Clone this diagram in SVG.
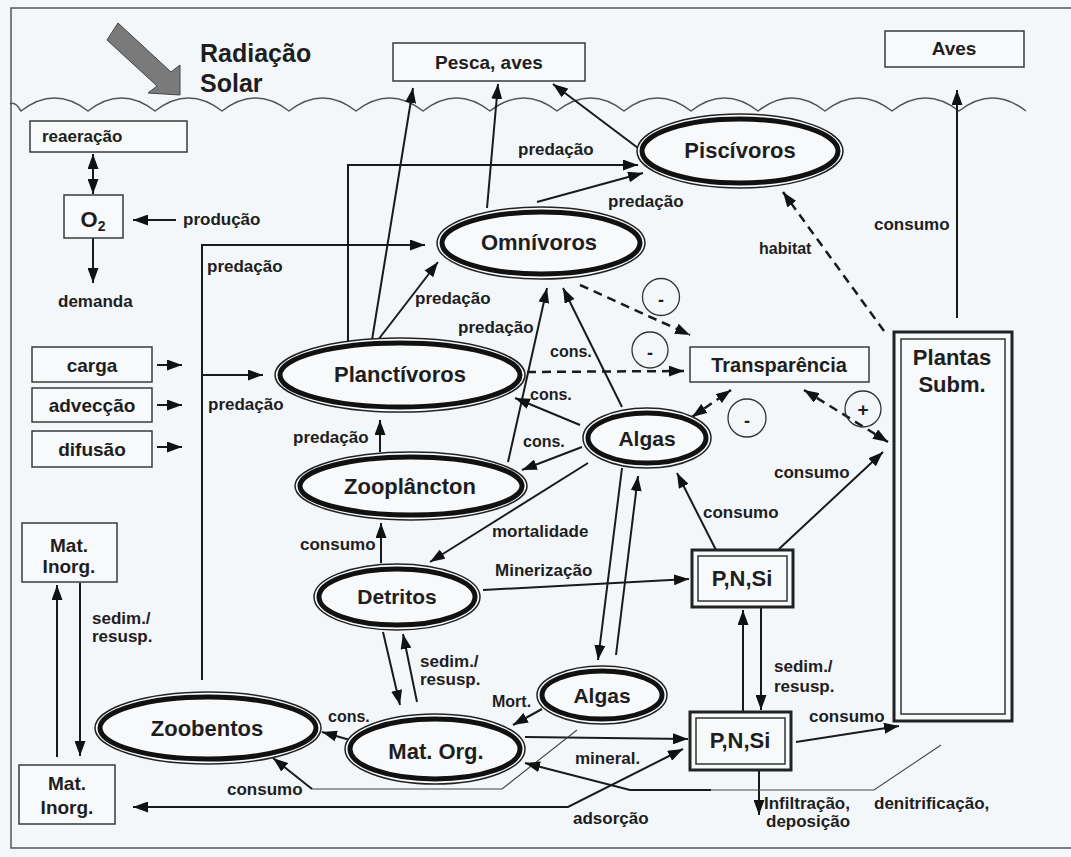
<svg xmlns="http://www.w3.org/2000/svg" width="1071" height="857" viewBox="0 0 1071 857">
<style>
.t{font-family:"Liberation Sans",Arial,sans-serif;font-weight:bold;fill:#1e1e1e}
.big{font-size:22px;text-anchor:middle}
.box{font-size:19px;text-anchor:middle}
.lbl{font-size:17px}
.sm{font-size:16px}
.r{fill:#f7f9fb;stroke:#3a3a3a;stroke-width:1.5}
.r2{fill:#f7f9fb;stroke:#222;stroke-width:3}
.ri{fill:none;stroke:#333;stroke-width:1.5}
.e1{fill:#f7f9fb;stroke:#222;stroke-width:1.5}
.e2{fill:none;stroke:#111;stroke-width:5}
.a{marker-end:url(#ah)}
.b{marker-start:url(#ah);marker-end:url(#ah)}
.d{stroke-dasharray:9 6;stroke-width:2.5}
.thin{stroke-width:1.1;stroke:#444}
.circ{fill:none;stroke:#333;stroke-width:1.3}
</style>
<defs>
<marker id="ah" markerUnits="userSpaceOnUse" markerWidth="15" markerHeight="11" refX="15" refY="5.5" orient="auto-start-reverse">
<path d="M0,0 L15,5.5 L0,11 z" fill="#111"/>
</marker>
</defs>
<rect x="0" y="0" width="1071" height="857" fill="#f4f7fa"/>
<path d="M1071,8 H11 V848 H1071" fill="none" stroke="#555" stroke-width="1.5"/>

<g id="radiacao">
<polygon points="118,23 171,72 180,65 180,95 148,93 157,86 107,40" fill="#7a7a7a" stroke="#444" stroke-width="1"/>
<text class="t" x="200" y="62" font-size="25">Radiação</text>
<text class="t" x="200" y="92" font-size="25">Solar</text>
</g>

<path id="superficie" fill="none" stroke="#555" stroke-width="1.5" d="M10,104 Q15,101 21,111 Q54.5,85 88,111 Q121.5,85 155,111 Q188.5,85 222,111 Q255.5,85 289,111 Q322.5,85 356,111 Q389.5,85 423,111 Q456.5,85 490,111 Q523.5,85 557,111 Q590.5,85 624,111 Q657.5,85 691,111 Q724.5,85 758,111 Q791.5,85 825,111 Q858.5,85 892,111 Q925.5,85 959,111 Q992.5,85 1026,111"/>

<g id="connectors" fill="none" stroke="#1a1a1a" stroke-width="2">
<path class="b" d="M93,154 V194"/>
<path class="a" d="M176,220 H133"/>
<path class="a" d="M93,238 V283"/>
<path class="a" d="M157,365 H182"/>
<path class="a" d="M157,405 H182"/>
<path class="a" d="M157,447 H182"/>
<path class="a" d="M57,757 V585"/>
<path class="a" d="M80,583 V756"/>
<path class="a" d="M202,680 V245 H425"/>
<path class="a" d="M202,375 H263"/>
<path class="a" d="M348,342 V165 H638"/>
<path class="a" d="M372,340 L413,88"/>
<path class="a" d="M487,208 L498,84"/>
<path class="a" d="M638,148 L553,84"/>
<path class="a" d="M537,202 L643,173"/>
<path class="a" d="M378,340 L438,262"/>
<path class="a" d="M508,462 L547,288"/>
<path class="a" d="M622,407 L563,288"/>
<path class="a d" d="M580,285 L690,335"/>
<path class="a d" d="M527,372 L684,371"/>
<path class="a" d="M580,425 L515,398"/>
<path class="a" d="M582,447 L522,470"/>
<path class="a" d="M588,463 L430,562"/>
<path class="a" d="M380,452 V420"/>
<path class="a" d="M381,563 V523"/>
<path class="a" d="M483,590 L689,579"/>
<path class="a" d="M622,468 L598,660"/>
<path class="a" d="M616,655 L638,476"/>
<path class="a" d="M716,550 L677,473"/>
<path class="a" d="M779,549 L883,452"/>
<path class="b d" d="M804,390 L888,442"/>
<path class="b d" d="M692,417 L731,390"/>
<path class="a d" d="M884,331 L783,192"/>
<path class="a" d="M957,318 V90"/>
<path class="a" d="M743,712 V610"/>
<path class="a" d="M761,607 V710"/>
<path class="a" d="M796,742 L899,726"/>
<path class="a" d="M759,770 V815"/>
<path class="a" d="M525,737 L688,739"/>
<path class="thin" d="M577,730 L502,789 H312"/>
<path class="a" d="M312,789 L273,758"/>
<path class="thin" d="M941,745 L874,790 H711"/>
<path class="a" d="M711,790 H630 L525,763"/>
<path class="b" d="M683,749 L568,807 H133"/>
<path class="a" d="M350,740 L322,732"/>
<path class="a" d="M542,709 L513,725"/>
<path class="a" d="M383,632 L400,705"/>
<path class="a" d="M417,702 L403,634"/>
</g>

<g id="pesca"><rect class="r" x="393" y="43" width="192" height="38"/><text class="t box" x="489" y="69">Pesca, aves</text></g>
<g id="aves"><rect class="r" x="885" y="31" width="139" height="36"/><text class="t box" x="954" y="55">Aves</text></g>
<g id="reaeracao"><rect class="r" x="30" y="121" width="157" height="31"/><text class="t lbl" x="42" y="142">reaeração</text></g>
<g id="o2"><rect class="r" x="64" y="195" width="59" height="43"/><text class="t" x="93" y="227" font-size="22" text-anchor="middle">O<tspan font-size="14" dy="4">2</tspan></text></g>
<g id="carga"><rect class="r" x="32" y="347" width="120" height="35"/><text class="t box" x="92" y="372">carga</text></g>
<g id="adveccao"><rect class="r" x="32" y="388" width="120" height="34"/><text class="t box" x="92" y="412">advecção</text></g>
<g id="difusao"><rect class="r" x="32" y="431" width="120" height="36"/><text class="t box" x="92" y="456">difusão</text></g>
<g id="matinorg1"><rect class="r" x="22" y="523" width="95" height="59"/><text class="t box" x="69" y="552">Mat.</text><text class="t box" x="69" y="573">Inorg.</text></g>
<g id="matinorg2"><rect class="r" x="19" y="765" width="96" height="59"/><text class="t box" x="67" y="790">Mat.</text><text class="t box" x="67" y="814">Inorg.</text></g>
<g id="transparencia"><rect class="r" x="690" y="347" width="179" height="35"/><text class="t" x="779" y="372" font-size="20" text-anchor="middle">Transparência</text></g>

<g id="piscivoros"><ellipse class="e1" cx="740" cy="151" rx="103" ry="37"/><ellipse class="e2" cx="740" cy="151" rx="98" ry="32"/><text class="t big" x="740" y="158">Piscívoros</text></g>
<g id="omnivoros"><ellipse class="e1" cx="541" cy="243" rx="104" ry="36"/><ellipse class="e2" cx="541" cy="243" rx="99" ry="31"/><text class="t big" x="539" y="250">Omnívoros</text></g>
<g id="planctivoros"><ellipse class="e1" cx="400" cy="375" rx="125" ry="37"/><ellipse class="e2" cx="400" cy="375" rx="120" ry="32"/><text class="t big" x="400" y="382">Planctívoros</text></g>
<g id="zooplancton"><ellipse class="e1" cx="411" cy="486" rx="116" ry="34"/><ellipse class="e2" cx="411" cy="486" rx="111" ry="29"/><text class="t big" x="410" y="494">Zooplâncton</text></g>
<g id="algas1"><ellipse class="e1" cx="647" cy="438" rx="64" ry="30"/><ellipse class="e2" cx="647" cy="438" rx="59" ry="25"/><text class="t" x="647" y="446" font-size="21" text-anchor="middle">Algas</text></g>
<g id="detritos"><ellipse class="e1" cx="397" cy="597" rx="83" ry="33"/><ellipse class="e2" cx="397" cy="597" rx="78" ry="28"/><text class="t" x="397" y="604" font-size="21" text-anchor="middle">Detritos</text></g>
<g id="algas2"><ellipse class="e1" cx="602" cy="695" rx="65" ry="29"/><ellipse class="e2" cx="602" cy="695" rx="60" ry="24"/><text class="t" x="602" y="703" font-size="21" text-anchor="middle">Algas</text></g>
<g id="matorg"><ellipse class="e1" cx="435" cy="749" rx="90" ry="35"/><ellipse class="e2" cx="435" cy="749" rx="85" ry="30"/><text class="t big" x="436" y="759">Mat. Org.</text></g>
<g id="zoobentos"><ellipse class="e1" cx="208" cy="728" rx="113" ry="36"/><ellipse class="e2" cx="208" cy="728" rx="108" ry="31"/><text class="t big" x="207" y="736">Zoobentos</text></g>

<g id="pnsi1"><rect class="r2" x="692" y="550" width="101" height="57"/><rect class="ri" x="698" y="556" width="89" height="45"/><text class="t big" x="742" y="586">P,N,Si</text></g>
<g id="pnsi2"><rect class="r2" x="690" y="712" width="101" height="58"/><rect class="ri" x="696" y="718" width="89" height="46"/><text class="t big" x="740" y="748">P,N,Si</text></g>
<g id="plantas"><rect class="r2" x="894" y="332" width="118" height="389"/><rect class="ri" x="901" y="339" width="104" height="375"/><text class="t big" x="952" y="365">Plantas</text><text class="t big" x="952" y="392">Subm.</text></g>

<g id="sinais">
<circle class="circ" cx="661" cy="297" r="18.5"/><text class="t" x="661" y="306" font-size="18" text-anchor="middle">-</text>
<circle class="circ" cx="650" cy="350" r="18"/><text class="t" x="650" y="359" font-size="18" text-anchor="middle">-</text>
<circle class="circ" cx="747" cy="418" r="19"/><text class="t" x="747" y="427" font-size="18" text-anchor="middle">-</text>
<circle class="circ" cx="863" cy="409" r="18"/><text class="t" x="863" y="416" font-size="19" text-anchor="middle">+</text>
</g>

<g id="labels" class="t lbl">
<text x="183" y="225">produção</text>
<text x="58" y="307">demanda</text>
<text x="207" y="272">predação</text>
<text x="208" y="410">predação</text>
<text x="518" y="155">predação</text>
<text x="608" y="207">predação</text>
<text x="415" y="304">predação</text>
<text x="458" y="333">predação</text>
<text x="293" y="443">predação</text>
<text x="300" y="550">consumo</text>
<text class="sm" x="550" y="357">cons.</text>
<text class="sm" x="530" y="400">cons.</text>
<text class="sm" x="523" y="447">cons.</text>
<text x="492" y="537">mortalidade</text>
<text x="495" y="576">Minerização</text>
<text x="703" y="518">consumo</text>
<text x="774" y="478">consumo</text>
<text class="sm" x="759" y="254">habitat</text>
<text x="874" y="230">consumo</text>
<text x="774" y="672">sedim./</text>
<text x="774" y="692">resusp.</text>
<text x="809" y="722">consumo</text>
<text x="764" y="809">Infiltração,</text>
<text x="766" y="827">deposição</text>
<text x="874" y="809">denitrificação,</text>
<text x="573" y="824">adsorção</text>
<text x="575" y="764">mineral.</text>
<text class="sm" x="492" y="707">Mort.</text>
<text x="420" y="667">sedim./</text>
<text x="420" y="685">resusp.</text>
<text class="sm" x="328" y="722">cons.</text>
<text x="227" y="795">consumo</text>
<text x="92" y="624">sedim./</text>
<text x="92" y="642">resusp.</text>
</g>
</svg>
